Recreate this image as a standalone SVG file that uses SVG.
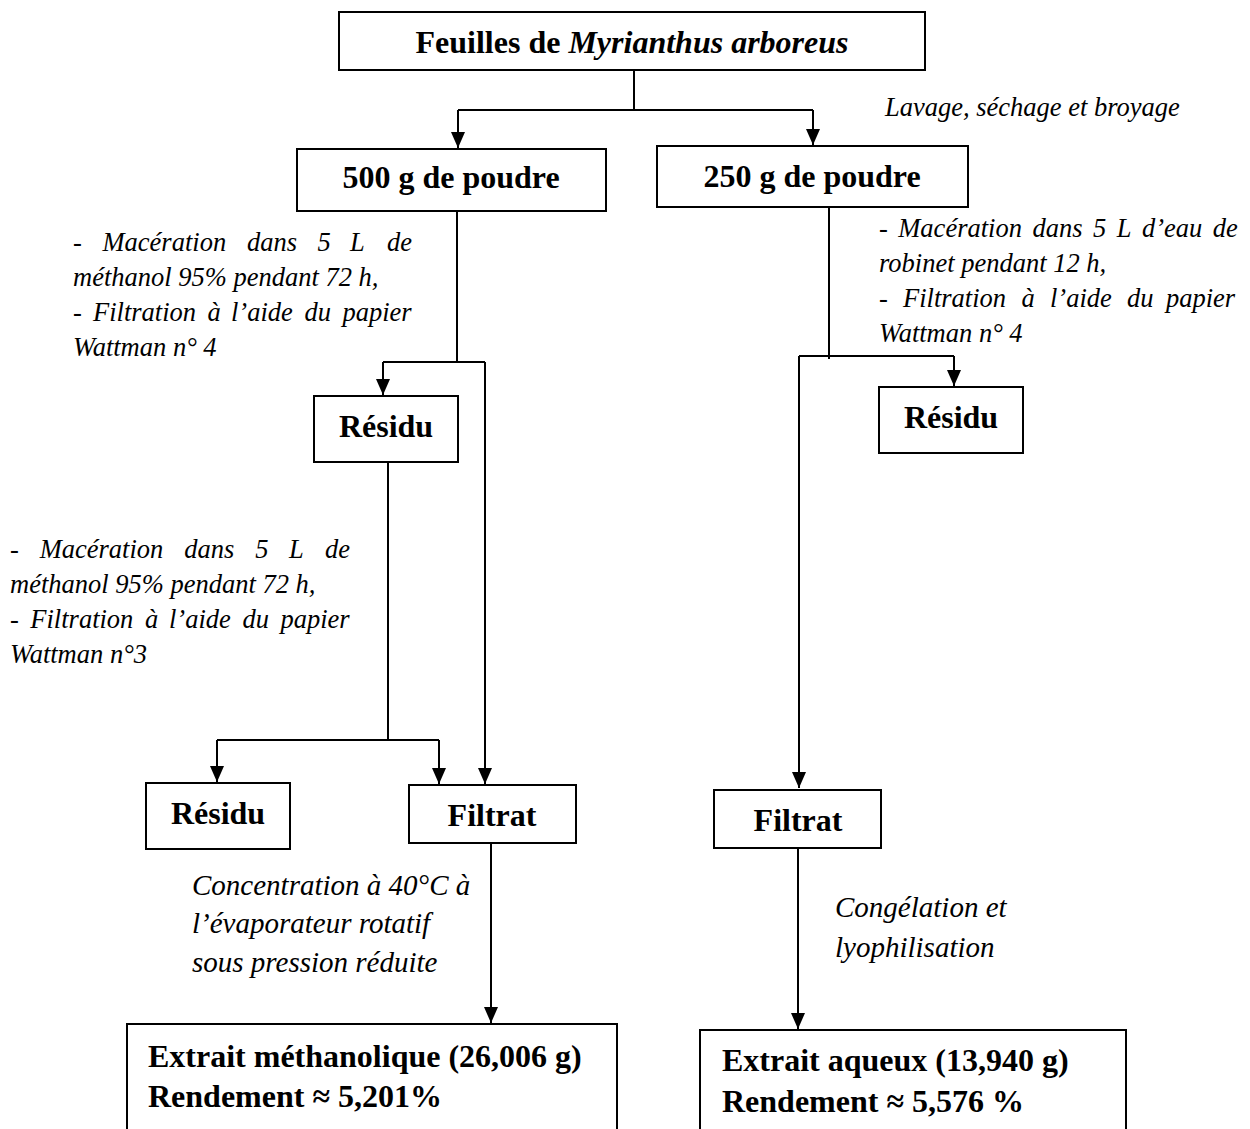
<svg xmlns="http://www.w3.org/2000/svg" width="1250" height="1129" viewBox="0 0 1250 1129">
  <style>
    .box { fill: #fff; stroke: #000; stroke-width: 2; }
    .wire { fill: none; stroke: #000; stroke-width: 2; }
    .arrow { fill: none; stroke: #000; stroke-width: 2; marker-end: url(#head); }
    text { font-family: "Liberation Serif", "Times New Roman", serif; fill: #000; }
    .lbl { font-weight: bold; font-size: 32px; }
    .title { font-weight: bold; font-size: 32px; }
    .note { font-style: italic; font-size: 26.5px; }
    .note2 { font-style: italic; font-size: 29px; }
  </style>
  <defs>
    <marker id="head" viewBox="0 0 16 14" refX="16" refY="7" markerWidth="16" markerHeight="14" markerUnits="userSpaceOnUse" orient="auto">
      <path d="M0,0 L16,7 L0,14 Z" fill="#000"/>
    </marker>
  </defs>

  <rect width="1250" height="1129" fill="#fff"/>

  <!-- connectors -->
  <g id="connectors">
    <!-- leaves to both powder lots -->
    <path class="wire" d="M634,70 V110 M458,110 H813"/>
    <path class="arrow" d="M458,110 V148"/>
    <path class="arrow" d="M813,110 V145"/>

    <!-- methanol branch: first maceration -->
    <path class="wire" d="M457,211 V363 M383,362 H485"/>
    <path class="arrow" d="M383,362 V395"/>
    <path class="arrow" d="M485,362 V784"/>

    <!-- second maceration of the residue -->
    <path class="wire" d="M388,462 V741 M217,740 H439"/>
    <path class="arrow" d="M217,740 V782"/>
    <path class="arrow" d="M439,740 V784"/>

    <!-- concentration -->
    <path class="arrow" d="M491,843 V1023"/>

    <!-- aqueous branch -->
    <path class="wire" d="M829,207 V359 M799,356 H954"/>
    <path class="arrow" d="M954,356 V386"/>
    <path class="arrow" d="M799,356 V788"/>

    <!-- freeze drying -->
    <path class="arrow" d="M798,848 V1029"/>
  </g>

  <!-- nodes -->
  <g id="leaves">
    <rect class="box" x="339" y="12" width="586" height="58"/>
    <text class="title" x="632" y="53" text-anchor="middle">Feuilles de <tspan font-style="italic">Myrianthus arboreus</tspan></text>
  </g>

  <g id="powder-500">
    <rect class="box" x="297" y="149" width="309" height="62"/>
    <text class="lbl" x="451" y="188" text-anchor="middle">500 g de poudre</text>
  </g>

  <g id="powder-250">
    <rect class="box" x="657" y="146" width="311" height="61"/>
    <text class="lbl" x="812" y="187" text-anchor="middle">250 g de poudre</text>
  </g>

  <g id="residue-1">
    <rect class="box" x="314" y="396" width="144" height="66"/>
    <text class="lbl" x="386" y="437" text-anchor="middle">Résidu</text>
  </g>

  <g id="residue-2">
    <rect class="box" x="146" y="783" width="144" height="66"/>
    <text class="lbl" x="218" y="824" text-anchor="middle">Résidu</text>
  </g>

  <g id="filtrate-methanol">
    <rect class="box" x="409" y="785" width="167" height="58"/>
    <text class="lbl" x="492" y="826" text-anchor="middle">Filtrat</text>
  </g>

  <g id="residue-aqueous">
    <rect class="box" x="879" y="387" width="144" height="66"/>
    <text class="lbl" x="951" y="428" text-anchor="middle">Résidu</text>
  </g>

  <g id="filtrate-aqueous">
    <rect class="box" x="714" y="790" width="167" height="58"/>
    <text class="lbl" x="798" y="831" text-anchor="middle">Filtrat</text>
  </g>

  <g id="extract-methanol">
    <rect class="box" x="127" y="1024" width="490" height="130"/>
    <text class="lbl" x="148" y="1067">Extrait méthanolique (26,006 g)</text>
    <text class="lbl" x="148" y="1107">Rendement ≈ 5,201%</text>
  </g>

  <g id="extract-aqueous">
    <rect class="box" x="700" y="1030" width="426" height="130"/>
    <text class="lbl" x="722" y="1071">Extrait aqueux (13,940 g)</text>
    <text class="lbl" x="722" y="1112">Rendement ≈ 5,576 %</text>
  </g>

  <!-- step annotations (justified lines are set word by word) -->
  <g id="step-prep">
    <text class="note" x="885" y="116">Lavage, séchage et broyage</text>
  </g>

  <g id="step-methanol-1">
    <text class="note" y="251"><tspan x="73">-</tspan><tspan x="102.5">Macération</tspan><tspan x="247">dans</tspan><tspan x="317.5">5</tspan><tspan x="350">L</tspan><tspan x="387">de</tspan></text>
    <text class="note" x="73" y="286">méthanol 95% pendant 72 h,</text>
    <text class="note" y="321"><tspan x="73">-</tspan><tspan x="93">Filtration</tspan><tspan x="207.5">à</tspan><tspan x="231">l’aide</tspan><tspan x="304.5">du</tspan><tspan x="342.5">papier</tspan></text>
    <text class="note" x="73" y="356">Wattman n° 4</text>
  </g>

  <g id="step-methanol-2">
    <text class="note" y="558"><tspan x="10">-</tspan><tspan x="39.7">Macération</tspan><tspan x="184.2">dans</tspan><tspan x="255.2">5</tspan><tspan x="289">L</tspan><tspan x="325">de</tspan></text>
    <text class="note" x="10" y="593">méthanol 95% pendant 72 h,</text>
    <text class="note" y="628"><tspan x="10">-</tspan><tspan x="30.3">Filtration</tspan><tspan x="145">à</tspan><tspan x="169">l’aide</tspan><tspan x="242.5">du</tspan><tspan x="280.5">papier</tspan></text>
    <text class="note" x="10" y="663">Wattman n°3</text>
  </g>

  <g id="step-aqueous">
    <text class="note" y="237"><tspan x="879">-</tspan><tspan x="898.3">Macération</tspan><tspan x="1032.4">dans</tspan><tspan x="1093">5</tspan><tspan x="1116.8">L</tspan><tspan x="1142">d’eau</tspan><tspan x="1212.8">de</tspan></text>
    <text class="note" x="879" y="272">robinet pendant 12 h,</text>
    <text class="note" y="307"><tspan x="879">-</tspan><tspan x="903">Filtration</tspan><tspan x="1021.5">à</tspan><tspan x="1050">l’aide</tspan><tspan x="1127">du</tspan><tspan x="1166">papier</tspan></text>
    <text class="note" x="879" y="342">Wattman n° 4</text>
  </g>

  <g id="step-concentration">
    <text class="note2" x="192" y="895">Concentration à 40°C à</text>
    <text class="note2" x="192" y="933">l’évaporateur rotatif</text>
    <text class="note2" x="192" y="972">sous pression réduite</text>
  </g>

  <g id="step-freeze-drying">
    <text class="note2" x="835" y="917">Congélation et</text>
    <text class="note2" x="835" y="957">lyophilisation</text>
  </g>
</svg>
